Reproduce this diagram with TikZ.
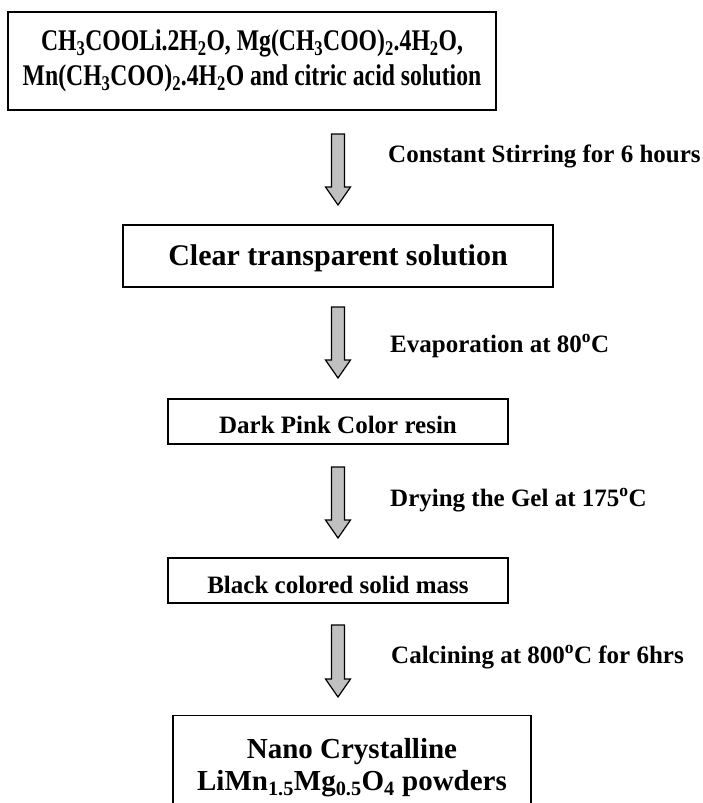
\documentclass[tikz,border=0pt]{standalone}
\usepackage{fontspec}
\setmainfont{Liberation Serif}
\usetikzlibrary{calc}
\definecolor{arrowgray}{RGB}{192,192,192}

\newcommand{\lo}[1]{\textsubscript{#1}}
\newcommand{\blockarrow}[2]{%
  \draw[blockarrow] ($(#1)+(-6.5,0)$) -- ($(#2)+(-6.5,-18)$) -- ($(#2)+(-12.5,-18)$) -- (#2)
    -- ($(#2)+(12.5,-18)$) -- ($(#2)+(6.5,-18)$) -- ($(#1)+(6.5,0)$) -- cycle;}

\begin{document}
\begin{tikzpicture}[x=1pt,y=-1pt,
    stepbox/.style={draw,line width=1.4pt,inner sep=0pt,align=center},
    blockarrow/.style={draw,line width=1.2pt,fill=arrowgray,line join=miter},
    steplabel/.style={anchor=base west,inner sep=0pt,font=\fontsize{25}{30}\selectfont\bfseries}]
  \clip (0,0) rectangle (703,803);

  \node[stepbox,minimum width=488pt,minimum height=98pt,font=\fontsize{30}{35}\selectfont\bfseries] (mix) at (252,61)
    {\scalebox{0.79}[1]{\begin{tabular}{@{}c@{}}CH\lo{3}COOLi.2H\lo{2}O, Mg(CH\lo{3}COO)\lo{2}.4H\lo{2}O,\\
      Mn(CH\lo{3}COO)\lo{2}.4H\lo{2}O and citric acid solution\end{tabular}}};
  \node[stepbox,minimum width=430pt,minimum height=62pt,text height=24pt,text depth=6pt,
    font=\fontsize{30}{36}\selectfont\bfseries] (clear) at (338,256) {Clear transparent solution};
  \node[stepbox,minimum width=340pt,minimum height=45pt,text height=23pt,text depth=0pt,
    font=\fontsize{25}{30}\selectfont\bfseries] (resin) at (338,421.5) {Dark Pink Color resin};
  \node[stepbox,minimum width=340pt,minimum height=45pt,text height=25pt,text depth=0pt,
    font=\fontsize{25}{30}\selectfont\bfseries] (mass) at (338,580.5) {Black colored solid mass};
  \node[stepbox,anchor=north,minimum width=358pt,inner ysep=23pt,
    font=\fontsize{29}{32}\selectfont\bfseries] (powder) at (352,715)
    {Nano Crystalline\\LiMn\lo{1.5}Mg\lo{0.5}O\lo{4} powders};

  % process arrows
  \coordinate (s1) at (338,134); \coordinate (t1) at (338,205);
  \coordinate (s2) at (338,307); \coordinate (t2) at (338,378);
  \coordinate (s3) at (338,467); \coordinate (t3) at (338,538);
  \coordinate (s4) at (338,625); \coordinate (t4) at (338,697);
  \blockarrow{s1}{t1}
  \blockarrow{s2}{t2}
  \blockarrow{s3}{t3}
  \blockarrow{s4}{t4}

  \node[steplabel] (stir) at (388,162) {Constant Stirring for 6 hours};
  \node[steplabel] (evap) at (390,352) {Evaporation at 80\textsuperscript{o}C};
  \node[steplabel] (dry) at (390,506) {Drying the Gel at 175\textsuperscript{o}C};
  \node[steplabel] (calcine) at (391,663) {Calcining at 800\textsuperscript{o}C for 6hrs};
\end{tikzpicture}
\end{document}
